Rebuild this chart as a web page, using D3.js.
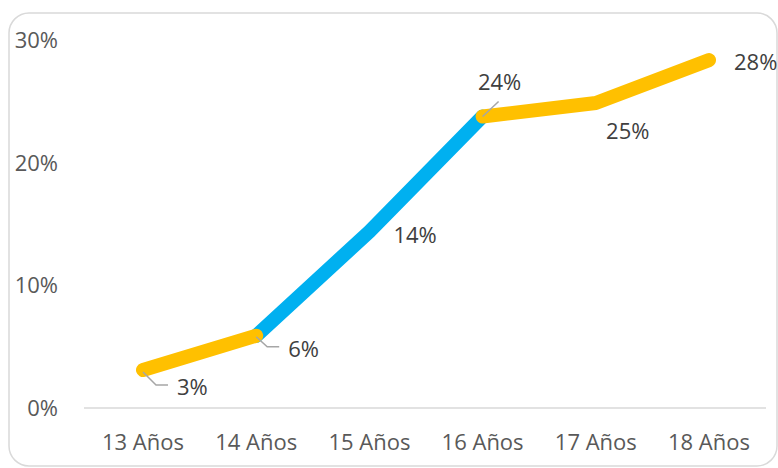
<!DOCTYPE html>
<html>
<head>
<meta charset="utf-8">
<script src="https://cdn.jsdelivr.net/npm/d3@7"></script>
<style>
	body { margin: 0; background: #fff; }
	svg text { font-family: "Open Sans", "Noto Sans", sans-serif; }
</style>
</head>
<body>
<svg id="chart" width="778" height="468"></svg>
<script>
const categories = ["13 Años", "14 Años", "15 Años", "16 Años", "17 Años", "18 Años"];
const values = [0.031, 0.059, 0.144, 0.238, 0.249, 0.284];
const valueLabels = ["3%", "6%", "14%", "24%", "25%", "28%"];
const yTicks = [0, 0.1, 0.2, 0.3];
// index ranges of each coloured stretch of the line
const segments = [
	{ from: 1, to: 3, color: "#00B0F0" },
	{ from: 0, to: 1, color: "#FFC000" },
	{ from: 3, to: 5, color: "#FFC000" }
];

const svg = d3.select("#chart");

svg.append("rect")
	.attr("x", 9).attr("y", 13)
	.attr("width", 768).attr("height", 453)
	.attr("rx", 20)
	.attr("fill", "#fff")
	.attr("stroke", "#D9D9D9")
	.attr("stroke-width", 1.5);

const x = d3.scalePoint().domain(categories).range([143, 709]);
const y = d3.scaleLinear().domain([0, 0.3]).range([408, 40.5]);

// y tick labels
svg.append("g")
	.selectAll("text")
	.data(yTicks)
	.join("text")
	.attr("x", 58)
	.attr("y", d => y(d))
	.attr("dy", "0.35em")
	.attr("text-anchor", "end")
	.attr("font-size", 22)
	.attr("fill", "#595959")
	.text(d3.format(".0%"));

// x axis
const xAxis = svg.append("g").attr("transform", `translate(0,${y(0)})`);
xAxis.append("line")
	.attr("x1", 84).attr("x2", 766)
	.attr("stroke", "#D9D9D9")
	.attr("stroke-width", 1.5);
xAxis.selectAll("text")
	.data(categories)
	.join("text")
	.attr("x", d => x(d))
	.attr("y", 34)
	.attr("dy", "0.35em")
	.attr("text-anchor", "middle")
	.attr("font-size", 22)
	.attr("fill", "#595959")
	.text(d => d);

const line = d3.line()
	.x(i => x(categories[i]))
	.y(i => y(values[i]));

svg.append("g")
	.selectAll("path")
	.data(segments)
	.join("path")
	.attr("d", s => line(d3.range(s.from, s.to + 1)))
	.attr("fill", "none")
	.attr("stroke", s => s.color)
	.attr("stroke-width", 14)
	.attr("stroke-linecap", "round")
	.attr("stroke-linejoin", "round");

// label placement relative to the point, with optional leader line
const labelPos = [
	{ dx: 34, dy: 17, anchor: "start", leader: [[0, 2], [13, 15], [25, 15]] },
	{ dx: 32, dy: 14, anchor: "start", leader: [[0, 1], [11, 11], [23, 11]] },
	{ dx: 24, dy: 4, anchor: "start" },
	{ dx: 17, dy: -34, anchor: "middle", leader: [[0, 0], [16, -15]] },
	{ dx: 32, dy: 28, anchor: "middle" },
	{ dx: 25, dy: 2, anchor: "start" }
];

const labels = svg.append("g");
values.forEach((v, i) => {
	const px = x(categories[i]);
	const py = y(v);
	const p = labelPos[i];
	if (p.leader) {
		labels.append("path")
			.attr("d", d3.line()(p.leader.map(([a, b]) => [px + a, py + b])))
			.attr("fill", "none")
			.attr("stroke", "#A6A6A6")
			.attr("stroke-width", 1.5);
	}
	labels.append("text")
		.attr("x", px + p.dx)
		.attr("y", py + p.dy)
		.attr("dy", "0.35em")
		.attr("text-anchor", p.anchor)
		.attr("font-size", 22)
		.attr("fill", "#404040")
		.text(valueLabels[i]);
});
</script>
</body>
</html>
